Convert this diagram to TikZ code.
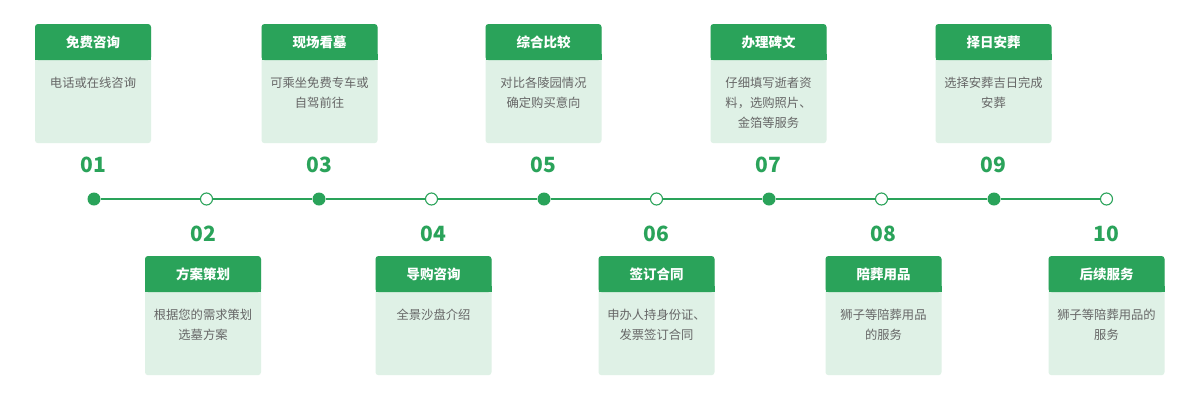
\documentclass[tikz,border=0pt]{standalone}
\usepackage{fontspec}
\setmainfont{Noto Sans CJK SC}
\definecolor{gr}{HTML}{2AA35A}
\definecolor{lg}{HTML}{DFF1E6}
\definecolor{tx}{HTML}{666666}
\newcommand\mycard[5]{%
  \node[bodybox] (#1b) at (#2,#3) {};
  \fill[gr, rounded corners=3pt] (#2-58,#3) rectangle (#2+58,#3+36);
  \fill[gr] (#2-58,#3+30) rectangle (#2+58,#3+36);
  \node[headtxt] (#1h) at (#2,#3+18) {#4};
  \node[bodytxt] (#1t) at (#2,#3+52.5) {#5};
}
\begin{document}
\begin{tikzpicture}[x=1pt,y=-1pt,
  bodybox/.style={anchor=north, fill=lg, rounded corners=3pt, minimum width=116pt, minimum height=119pt, inner sep=0pt},
  headtxt/.style={text=white, font=\fontsize{13.5pt}{16pt}\selectfont\bfseries, inner sep=0pt},
  bodytxt/.style={anchor=north, text=tx, font=\fontsize{12.3pt}{20pt}\selectfont, align=center, inner sep=0pt},
  num/.style={text=gr, font=\fontsize{21pt}{24pt}\selectfont\bfseries, inner sep=0pt},
  dotf/.style={circle, fill=gr, minimum size=13pt, inner sep=0pt},
  doth/.style={circle, fill=white, draw=gr, line width=1.1pt, minimum size=12pt, inner sep=0pt},
  conn/.style={gr, line width=2pt}]
\useasboundingbox[fill=white] (0,0) rectangle (1200,400);
% cards top
\mycard{c1}{93}{24}{免费咨询}{电话或在线咨询}
\mycard{c3}{319.5}{24}{现场看墓}{可乘坐免费专车或\\自驾前往}
\mycard{c5}{543.5}{24}{综合比较}{对比各陵园情况\\确定购买意向}
\mycard{c7}{768.5}{24}{办理碑文}{仔细填写逝者资\\料，选购照片、\\金箔等服务}
\mycard{c9}{993.5}{24}{择日安葬}{选择安葬吉日完成\\安葬}
% cards bottom
\mycard{c2}{203}{256}{方案策划}{根据您的需求策划\\选墓方案}
\mycard{c4}{433.5}{256}{导购咨询}{全景沙盘介绍}
\mycard{c6}{656.5}{256}{签订合同}{申办人持身份证、\\发票签订合同}
\mycard{c8}{883.5}{256}{陪葬用品}{狮子等陪葬用品\\的服务}
\mycard{c10}{1106.5}{256}{后续服务}{狮子等陪葬用品的\\服务}
% numbers
\node[num] (n1) at (93,165) {01};
\node[num] (n3) at (319,165) {03};
\node[num] (n5) at (543,165) {05};
\node[num] (n7) at (768,165) {07};
\node[num] (n9) at (993,165) {09};
\node[num] (n2) at (203,234) {02};
\node[num] (n4) at (433,234) {04};
\node[num] (n6) at (656,234) {06};
\node[num] (n8) at (883,234) {08};
\node[num] (n10) at (1106,234) {10};
% dots
\node[dotf] (d1) at (94,199) {};
\node[doth] (d2) at (206.5,199) {};
\node[dotf] (d3) at (319,199) {};
\node[doth] (d4) at (431.5,199) {};
\node[dotf] (d5) at (544,199) {};
\node[doth] (d6) at (656.5,199) {};
\node[dotf] (d7) at (769,199) {};
\node[doth] (d8) at (881.5,199) {};
\node[dotf] (d9) at (994,199) {};
\node[doth] (d10) at (1106.5,199) {};
\draw[conn] (d1) -- (d2) -- (d3) -- (d4) -- (d5) -- (d6) -- (d7) -- (d8) -- (d9) -- (d10);
\end{tikzpicture}
\end{document}
